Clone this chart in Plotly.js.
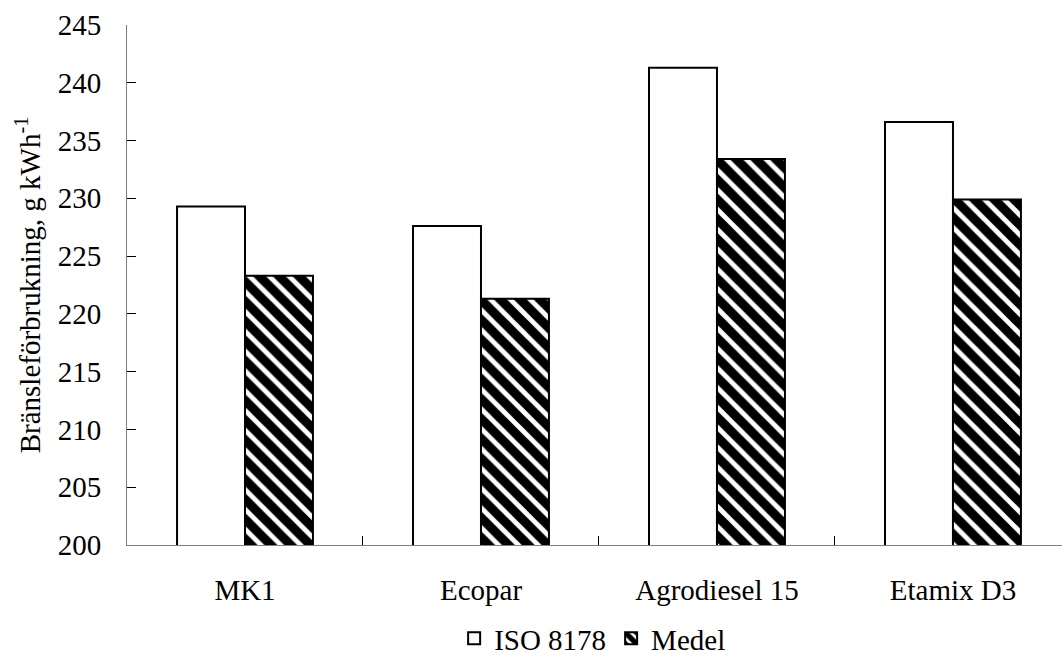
<!DOCTYPE html>
<html>
<head>
<meta charset="utf-8">
<script src="https://cdn.plot.ly/plotly-3.0.1.min.js"></script>
<style>html,body{margin:0;padding:0;background:#fff;}#chart{width:1062px;height:664px;}</style>
</head>
<body>
<div id="chart"></div>
<script>
const categories = ["MK1", "Ecopar", "Agrodiesel 15", "Etamix D3"];
const isoValues = [229.3, 227.6, 241.3, 236.6];
const medelValues = [223.3, 221.3, 233.4, 229.9];
const seriesNames = ["ISO 8178", "Medel"];
const yTickValues = [200, 205, 210, 215, 220, 225, 230, 235, 240, 245];
const yTitle = "Bränsleförbrukning, g kWh<sup>-1</sup>";

function mkFont() {
  return {family: "Liberation Serif", size: 29, color: "#000000"};
}

const traces = [
  {
    type: "bar", name: seriesNames[0], x: categories, y: isoValues,
    marker: {color: "#ffffff", line: {color: "#000", width: 2}},
    hoverinfo: "x+y"
  },
  {
    type: "bar", name: seriesNames[1], x: categories, y: medelValues,
    marker: {
      color: "#000000",
      line: {color: "#000", width: 2},
      pattern: {shape: "\\", bgcolor: "#ffffff", fgcolor: "#000000", fgopacity: 1, size: 14, solidity: 0.66, fillmode: "replace"}
    },
    hoverinfo: "x+y"
  }
];

const layout = {
  width: 1062, height: 664,
  margin: {l: 127, r: 0, t: 25, b: 116, pad: 0},
  paper_bgcolor: "#fff", plot_bgcolor: "#fff",
  font: mkFont(),
  barmode: "group",
  bargap: 0.424,
  bargroupgap: 0,
  showlegend: true,
  legend: {
    orientation: "h", x: 0.498, xanchor: "center", y: -0.18, yanchor: "middle",
    font: mkFont(), itemwidth: 30, traceorder: "normal", bgcolor: "rgba(0,0,0,0)"
  },
  xaxis: {
    type: "category",
    range: [-0.5, 3.462],
    showline: true, linecolor: "#7f7f7f", linewidth: 1,
    ticks: "inside", tickson: "boundaries", ticklen: 9, tickcolor: "#000", tickwidth: 1,
    ticklabelstandoff: 19,
    showgrid: false, zeroline: false,
    tickfont: mkFont()
  },
  yaxis: {
    range: [200, 245],
    tickvals: yTickValues,
    ticktext: yTickValues.map(String),
    showline: true, linecolor: "#7f7f7f", linewidth: 1,
    ticks: "inside", ticklen: 9, tickcolor: "#000", tickwidth: 1,
    ticklabelstandoff: 19,
    showgrid: false, zeroline: false,
    tickfont: mkFont(),
    title: {text: yTitle, font: mkFont(), standoff: 8}
  }
};

Plotly.newPlot("chart", traces, layout, {staticPlot: true, displayModeBar: false});
</script>
</body>
</html>
